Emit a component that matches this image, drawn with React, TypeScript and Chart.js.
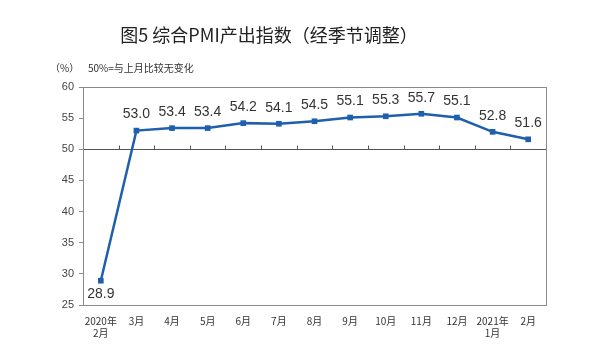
import React, { useEffect, useRef } from "react";
import { Chart, registerables } from "chart.js";

Chart.register(...registerables);

const categories: (string | string[])[] = [
  ["2020年", "2月"], "3月", "4月", "5月", "6月", "7月", "8月", "9月", "10月", "11月", "12月", ["2021年", "1月"], "2月",
];
const values: number[] = [28.9, 53.0, 53.4, 53.4, 54.2, 54.1, 54.5, 55.1, 55.3, 55.7, 55.1, 52.8, 51.6];
const valueLabels: string[] = ["28.9", "53.0", "53.4", "53.4", "54.2", "54.1", "54.5", "55.1", "55.3", "55.7", "55.1", "52.8", "51.6"];
const yMin = 25;
const yMax = 60;
const yStep = 5;
const baseline = 50;
const titleText = "图5 综合PMI产出指数（经季节调整）";
const unitText = "（%）";
const noteText = "50%=与上月比较无变化";

const LINE_COLOR = "#1f5fae";

const decorPlugin = {
  id: "decor",
  beforeDatasetsDraw(chart: any) {
    const { ctx, chartArea, scales } = chart;
    const x = scales.x;
    const y = scales.y;
    ctx.save();
    const yb = Math.round(y.getPixelForValue(baseline)) + 0.5;
    ctx.strokeStyle = "#555";
    ctx.lineWidth = 1;
    ctx.beginPath();
    ctx.moveTo(chartArea.left, yb);
    ctx.lineTo(chartArea.right, yb);
    ctx.stroke();
    const n = categories.length;
    const half = (x.getPixelForValue(1) - x.getPixelForValue(0)) / 2;
    ctx.beginPath();
    for (let i = 0; i < n; i++) {
      const px = Math.round(x.getPixelForValue(i) + half) + 0.5;
      if (px >= chartArea.right - 1) continue;
      ctx.moveTo(px, yb);
      ctx.lineTo(px, yb - 4);
    }
    ctx.stroke();
    ctx.restore();
  },
  afterDatasetsDraw(chart: any) {
    const { ctx, chartArea } = chart;
    ctx.save();
    ctx.strokeStyle = "#8a8a8a";
    ctx.lineWidth = 1;
    ctx.strokeRect(
      Math.round(chartArea.left) + 0.5,
      Math.round(chartArea.top) + 0.5,
      Math.round(chartArea.right - chartArea.left),
      Math.round(chartArea.bottom - chartArea.top)
    );
    const meta = chart.getDatasetMeta(0);
    ctx.fillStyle = "#333";
    ctx.font = "14px 'Liberation Sans', Arial, sans-serif";
    ctx.textAlign = "center";
    ctx.textBaseline = "middle";
    meta.data.forEach((pt: any, i: number) => {
      const v = values[i];
      const dy = v < baseline ? 13 : -16;
      ctx.fillText(valueLabels[i], pt.x, pt.y + dy);
    });
    ctx.fillStyle = "#222";
    ctx.font = "400 18px 'Noto Sans CJK SC', sans-serif";
    ctx.textAlign = "center";
    ctx.fillText(titleText, 269, 35);
    ctx.font = "10px 'Noto Sans CJK SC', sans-serif";
    ctx.textAlign = "left";
    ctx.fillStyle = "#333";
    ctx.fillText(unitText, 50, 68);
    ctx.fillText(noteText, 88, 68);
    ctx.restore();
  },
};

export default function App() {
  const ref = useRef<HTMLCanvasElement>(null);
  useEffect(() => {
    if (!ref.current) return;
    const chart = new Chart(ref.current, {
      type: "line",
      data: {
        labels: categories,
        datasets: [
          {
            data: values,
            borderColor: LINE_COLOR,
            backgroundColor: LINE_COLOR,
            borderWidth: 2.5,
            pointStyle: "rect",
            pointRadius: 4,
            pointBorderWidth: 0,
            tension: 0,
          },
        ],
      },
      options: {
        responsive: false,
        animation: false,
        layout: { padding: { left: 0, top: 87, right: 53, bottom: 0 } },
        plugins: { legend: { display: false }, tooltip: { enabled: false }, title: { display: false } },
        scales: {
          x: {
            offset: true,
            grid: { display: false, offset: true },
            border: { display: false },
            ticks: {
              color: "#333",
              font: { family: "'Noto Sans CJK SC', sans-serif", size: 10 },
              maxRotation: 0,
              autoSkip: false,
              padding: 2,
            },
            afterFit: (s: any) => {
              s.height = 54;
            },
          },
          y: {
            min: yMin,
            max: yMax,
            grid: { drawOnChartArea: false, tickLength: 4, color: "#8a8a8a" },
            border: { display: false },
            ticks: {
              stepSize: yStep,
              color: "#444",
              font: { family: "'Liberation Sans', Arial, sans-serif", size: 11 },
              padding: 5,
            },
            afterFit: (s: any) => {
              s.width = 83;
            },
          },
        },
      },
      plugins: [decorPlugin],
    });
    return () => chart.destroy();
  }, []);
  return (
    <div style={{ position: "absolute", left: 0, top: 0, width: 599, height: 359, background: "#fff" }}>
      <canvas ref={ref} width={599} height={359} style={{ width: 599, height: 359 }} />
    </div>
  );
}
